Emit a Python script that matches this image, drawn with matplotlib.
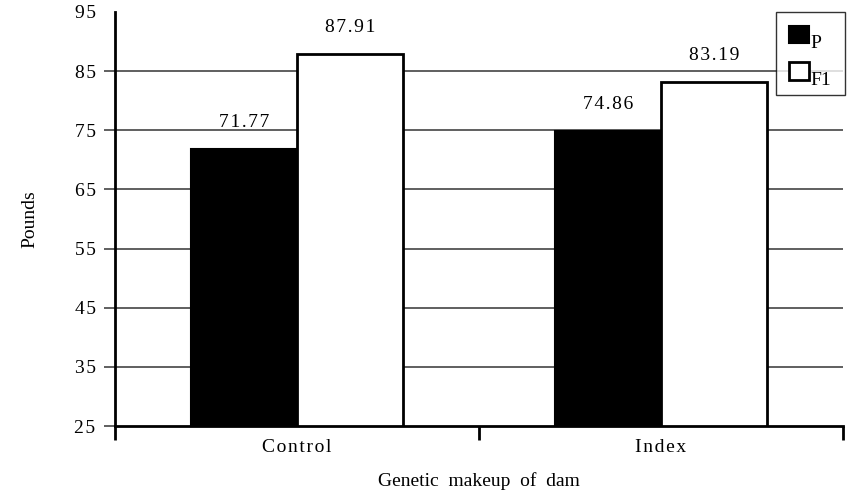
import numpy as np
import matplotlib
matplotlib.use("Agg")
import matplotlib.pyplot as plt

groups = ["Control", "Index"]
p_vals = [71.77, 74.86]
f1_vals = [87.91, 83.19]
yticks = [25, 35, 45, 55, 65, 75, 85, 95]

plt.rcParams['font.family'] = ['Liberation Serif', 'DejaVu Serif']

def spaced(s, sep='\u200a'):
    # the original typesetting has loose letter spacing
    return sep.join(s)

fig = plt.figure(figsize=(8.48, 4.93), dpi=100)
ax = fig.add_axes([0.1356, 0.1359, 0.8585, 0.8398])

x = np.arange(len(groups)) + 0.5
w = 0.29
base = 25
bp = ax.bar(x - w/2, np.array(p_vals) - base, w, bottom=base, color='black',
            edgecolor='black', linewidth=1.5, label='P', zorder=3)
bf = ax.bar(x + w/2, np.array(f1_vals) - base, w, bottom=base, color='white',
            edgecolor='black', linewidth=2, label='F1', zorder=3)

for bars, vals in ((bp, p_vals), (bf, f1_vals)):
    for b, v in zip(bars, vals):
        ax.annotate(spaced("%.2f" % v), xy=(b.get_x() + b.get_width()/2, v),
                    xytext=(0, 13), textcoords='offset points',
                    ha='center', va='bottom', fontsize=14)

ax.set_ylim(25, 95)
ax.set_xlim(0, 2)
ax.set_yticks(yticks)
ax.set_yticklabels([spaced(str(t)) for t in yticks], fontsize=14)
ax.yaxis.get_major_ticks()[-1].tick1line.set_visible(False)
for t in yticks[1:-1]:
    ax.axhline(t, color='#444444', linewidth=1.2, zorder=1)

ax.set_xticks([0, 1, 2])
ax.set_xticklabels([])
ax.set_xticks(x, minor=True)
ax.set_xticklabels([spaced(g) for g in groups], minor=True, fontsize=14)
ax.tick_params(axis='x', which='major', direction='out', length=10, width=2)
ax.tick_params(axis='x', which='minor', length=0, pad=9)
ax.tick_params(axis='y', direction='out', length=8, width=1.2, color='#444444', pad=6)

for s in ['top', 'right']:
    ax.spines[s].set_visible(False)
ax.spines['left'].set_linewidth(2)
ax.spines['bottom'].set_linewidth(2)

ax.set_ylabel("Pounds", fontsize=14, labelpad=26)
ax.set_xlabel("Genetic  makeup  of  dam", fontsize=14, labelpad=12)

leg = ax.legend(loc='upper right', bbox_to_anchor=(1.003, 1.0), fontsize=14,
                frameon=True, fancybox=False, edgecolor='black',
                handlelength=1.0, handleheight=1.0, handletextpad=0.1,
                labelspacing=0.9, borderpad=0.7, borderaxespad=0)
leg.get_frame().set_linewidth(1)
for t in leg.get_texts():
    t.set_y(-7)

fig.savefig("out.png", dpi=100)
